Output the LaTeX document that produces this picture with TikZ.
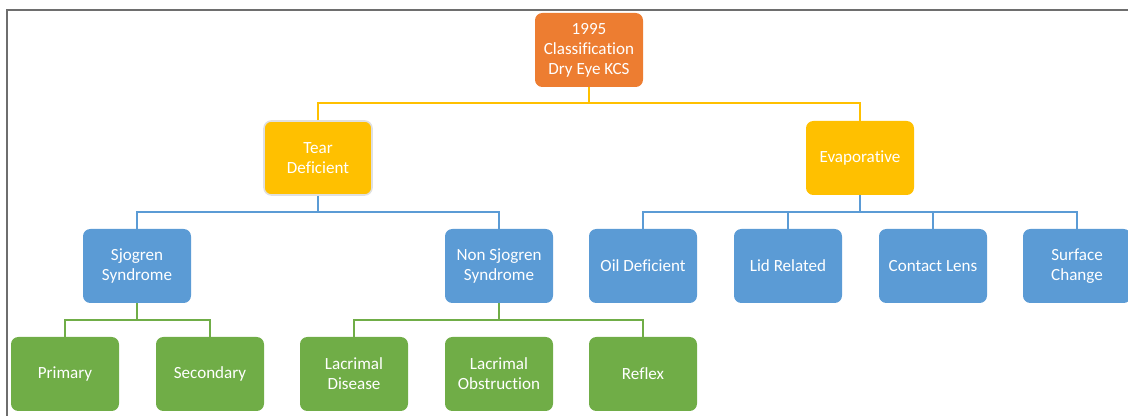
\documentclass[tikz,border=0pt]{standalone}
\usepackage{fontspec}
\setmainfont{Carlito}[Ligatures={NoCommon}, RawFeature={-liga}]
\definecolor{corange}{HTML}{ED7D31}
\definecolor{cyellow}{HTML}{FFC000}
\definecolor{cblue}{HTML}{5B9BD5}
\definecolor{cgreen}{HTML}{70AD47}
\definecolor{cframe}{HTML}{6E6E6E}
\begin{document}
\begin{tikzpicture}[x=0.75pt,y=-0.75pt,
  box/.style={rounded corners=5.5pt, minimum width=81pt, minimum height=55.5pt, inner sep=1pt,
    text=white, align=center, font=\fontsize{12.8}{15}\selectfont, draw=none},
  obox/.style={box, fill=corange},
  ybox/.style={box, fill=cyellow},
  bbox/.style={box, fill=cblue},
  gbox/.style={box, fill=cgreen},
  yline/.style={draw=cyellow, line width=1.5pt},
  bline/.style={draw=cblue, line width=1.5pt},
  gline/.style={draw=cgreen, line width=1.5pt}]
\useasboundingbox (0,0) rectangle (1128,416);
\clip (0,0) rectangle (1128,416);
% frame
\draw[cframe, line width=1.6pt] (7,416) -- (7,10) -- (1128,10);
% nodes
\node[obox] (root) at (589,50) {1995\\Classification\\Dry Eye KCS};
\node[ybox, draw=black!12, line width=1.2pt] (tear) at (318,158) {Tear\\Deficient};
\node[ybox] (evap) at (860,158) {Evaporative};
\node[bbox] (sjo) at (137,266) {Sjogren\\Syndrome};
\node[bbox] (nsjo) at (499,266) {Non Sjogren\\Syndrome};
\node[bbox] (oil) at (643,266) {Oil Deficient};
\node[bbox] (lid) at (788,266) {Lid Related};
\node[bbox] (cont) at (933,266) {Contact Lens};
\node[bbox] (surf) at (1077,266) {Surface\\Change};
\node[gbox] (prim) at (65,374) {Primary};
\node[gbox] (sec) at (210,374) {Secondary};
\node[gbox] (lacd) at (354,374) {Lacrimal\\Disease};
\node[gbox] (laco) at (499,374) {Lacrimal\\Obstruction};
\node[gbox] (refl) at (643,374) {Reflex};
% connectors
\coordinate (y1) at (589,103);
\draw[yline] (root.south) -- (y1);
\draw[yline] (tear.north) |- (y1) -| (evap.north);
\coordinate (b1) at (318,212);
\draw[bline] (tear.south) -- (b1);
\draw[bline] (sjo.north) |- (b1) -| (nsjo.north);
\coordinate (b2) at (860,212);
\draw[bline] (evap.south) -- (b2);
\draw[bline] (oil.north) |- (b2) -| (surf.north);
\draw[bline] (lid.north) -- (lid.north |- b2);
\draw[bline] (cont.north) -- (cont.north |- b2);
\coordinate (g1) at (137,320);
\draw[gline] (sjo.south) -- (g1);
\draw[gline] (prim.north) |- (g1) -| (sec.north);
\coordinate (g2) at (499,320);
\draw[gline] (nsjo.south) -- (g2);
\draw[gline] (lacd.north) |- (g2) -| (refl.north);
\end{tikzpicture}
\end{document}
